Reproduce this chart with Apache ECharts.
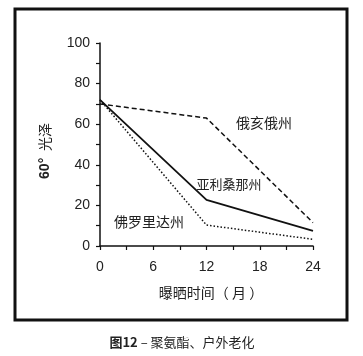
<!DOCTYPE html>
<html><head><meta charset="utf-8">
<script src="https://cdn.jsdelivr.net/npm/echarts@6/dist/echarts.min.js"></script>
<style>html,body{margin:0;padding:0;background:#fff}#c{width:363px;height:356px}</style>
</head><body><div id="c"></div>
<script>
var months = [0, 12, 24];
var ohio = [70, 63, 11.5];
var arizona = [72, 22.7, 7.5];
var florida = [72, 10.3, 3.3];
var yTicks = [0, 20, 40, 60, 80, 100];
var xTicks = [0, 6, 12, 18, 24];

function pairs(vals){ return months.map(function(m,i){ return [m, vals[i]]; }); }
var txt = '#222';
var ff = '"Liberation Sans", Arial, "Noto Sans CJK SC", sans-serif';
var chart = echarts.init(document.getElementById('c'));
chart.setOption({
  animation: false,
  backgroundColor: '#fff',
  grid: {left: 100, right: 50, top: 43, bottom: 110},
  xAxis: {
    type: 'value', min: xTicks[0], max: xTicks[xTicks.length-1], interval: 6,
    axisLine: {lineStyle: {color: '#111', width: 1.5}},
    axisTick: {show: true, length: 4, lineStyle: {color: '#111', width: 1.2}},
    minorTick: {show: true, splitNumber: 2, length: 4, lineStyle: {color: '#111', width: 1.2}},
    splitLine: {show: false},
    axisLabel: {color: txt, fontSize: 14, fontFamily: ff, margin: 14}
  },
  yAxis: {
    type: 'value', min: yTicks[0], max: yTicks[yTicks.length-1], interval: 20,
    axisLine: {show: true, lineStyle: {color: '#111', width: 1.5}},
    axisTick: {show: true, length: 4, lineStyle: {color: '#111', width: 1.2}},
    minorTick: {show: true, splitNumber: 2, length: 4, lineStyle: {color: '#111', width: 1.2}},
    splitLine: {show: false},
    axisLabel: {color: txt, fontSize: 14, fontFamily: ff, margin: 10}
  },
  series: [
    {name: '俄亥俄州', type: 'line', data: pairs(ohio), symbol: 'none',
     lineStyle: {color: '#111', width: 1.5, type: [5, 3]}},
    {name: '亚利桑那州', type: 'line', data: pairs(arizona), symbol: 'none',
     lineStyle: {color: '#111', width: 1.8, type: 'solid'}},
    {name: '佛罗里达州', type: 'line', data: pairs(florida), symbol: 'none',
     lineStyle: {color: '#111', width: 1.5, type: [1.5, 2]}}
  ],
  graphic: [
    {type: 'rect', shape: {x: 15, y: 9, width: 332, height: 311},
     style: {fill: 'none', stroke: '#111', lineWidth: 3}, z: 100},
    {type: 'text', x: 264, y: 123, style: {text: '俄亥俄州', fill: txt, font: '14px "Noto Sans CJK SC"', align: 'center', verticalAlign: 'middle'}},
    {type: 'text', x: 229, y: 184, style: {text: '亚利桑那州', fill: txt, font: '13px "Noto Sans CJK SC"', align: 'center', verticalAlign: 'middle'}},
    {type: 'text', x: 149, y: 222, style: {text: '佛罗里达州', fill: txt, font: '14px "Noto Sans CJK SC"', align: 'center', verticalAlign: 'middle'}},
    {type: 'text', x: 45, y: 151, rotation: Math.PI/2,
     style: {text: '{b|60°}  {n|光泽}', align: 'center', verticalAlign: 'middle',
       rich: {b: {fontSize: 14, fontWeight: 'bold', fill: txt, fontFamily: ff},
              n: {fontSize: 14, fill: txt, fontFamily: '"Noto Sans CJK SC"'}}}},
    {type: 'text', x: 211, y: 293, style: {text: '曝晒时间（ 月 ）', fill: txt, font: '14px "Noto Sans CJK SC"', align: 'center', verticalAlign: 'middle'}},
    {type: 'text', x: 182, y: 342,
     style: {text: '{b|图12}{n| – 聚氨酯、户外老化}', align: 'center', verticalAlign: 'middle',
       rich: {b: {fontSize: 13, fontWeight: 'bold', fill: txt, fontFamily: '"Noto Sans CJK SC"'},
              n: {fontSize: 13, fill: txt, fontFamily: '"Noto Sans CJK SC"'}}}}
  ]
});
</script></body></html>
